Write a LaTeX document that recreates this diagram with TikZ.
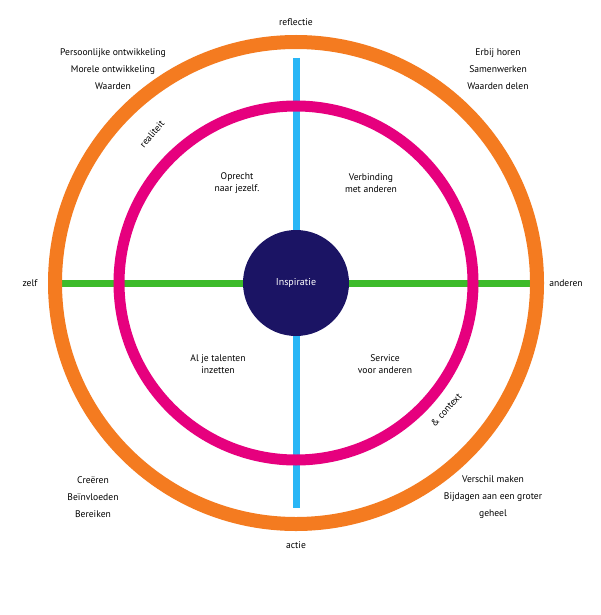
\documentclass[tikz,border=0pt]{standalone}
\usepackage{fontspec}
\setmainfont{PT Sans}
\definecolor{orng}{HTML}{F47B20}
\definecolor{mag}{HTML}{E6007E}
\definecolor{navy}{HTML}{1B1464}
\definecolor{sky}{HTML}{29B6F6}
\definecolor{grn}{HTML}{3DBB2A}
\begin{document}
\begin{tikzpicture}[x=1pt,y=-1pt,
  lbl/.style={font=\fontsize{9.6}{12.5}\selectfont,align=center,text=black}]
\useasboundingbox (0,0) rectangle (600,615);
\fill[white] (0,0) rectangle (600,615);
\coordinate (c) at (296,283);
\draw[sky,line width=7] (296,58) coordinate (t) -- (296,508) coordinate (b);
\draw[grn,line width=7] (58,283) coordinate (l) -- (534,283) coordinate (r);
\draw[orng,line width=14] (c) circle (241);
\draw[mag,line width=11] (c) circle (177);
\node[circle,fill=navy,minimum size=106,inner sep=0,text=white,font=\fontsize{10}{12}\selectfont] (insp) at (c) {Inspiratie};
\node[lbl] (refl) at (296,22) {reflectie};
\node[lbl] (actie) at (296,545) {actie};
\node[lbl] (zelf) at (30,283) {zelf};
\node[lbl] (and) at (566,283) {anderen};
\node[lbl] (q1) at (237,183) {Oprecht\\naar jezelf.};
\node[lbl] (q2) at (371,183) {Verbinding\\met anderen};
\node[lbl] (q3) at (218,364) {Al je talenten\\inzetten};
\node[lbl] (q4) at (385,364) {Service\\voor anderen};
\node[lbl,font=\fontsize{9.6}{17}\selectfont] (tl) at (113,69) {Persoonlijke ontwikkeling\\Morele ontwikkeling\\Waarden};
\node[lbl,font=\fontsize{9.6}{17}\selectfont] (tr) at (498,69) {Erbij horen\\Samenwerken\\Waarden delen};
\node[lbl,font=\fontsize{9.6}{17}\selectfont] (bl) at (93,497) {Creëren\\Beïnvloeden\\Bereiken};
\node[lbl,font=\fontsize{9.6}{17}\selectfont] (br) at (493,497) {Verschil maken\\Bijdagen aan een groter\\geheel};
\node[lbl,rotate=50] (real) at (152,134) {realiteit};
\node[lbl,rotate=48] (ctx) at (446,410) {\& context};
\end{tikzpicture}
\end{document}
